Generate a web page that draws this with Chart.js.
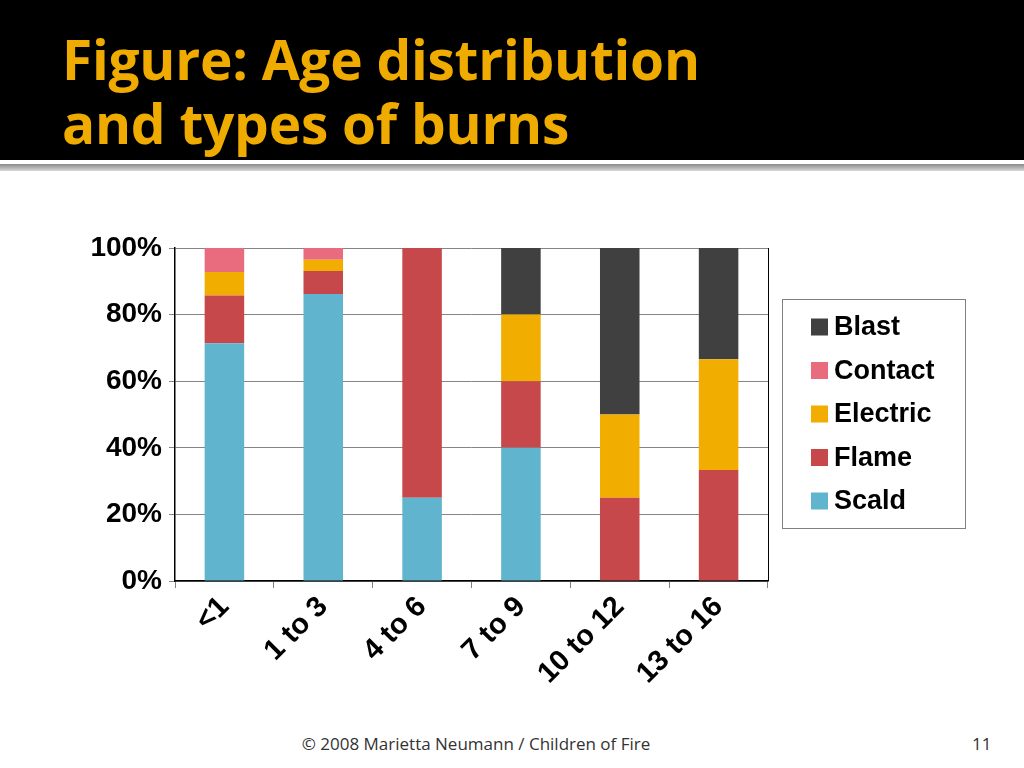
<!DOCTYPE html>
<html>
<head>
<meta charset="utf-8">
<script src="https://cdn.jsdelivr.net/npm/chart.js@4.4.1/dist/chart.umd.min.js"></script>
<style>
  html, body { margin: 0; padding: 0; width: 1024px; height: 768px; background: #fff; overflow: hidden; }
  #header { position: absolute; left: 0; top: 0; width: 1024px; height: 160px; background: #000; }
  #title { position: absolute; left: 62px; top: 27px; margin: 0; font-family: "Open Sans", sans-serif; font-weight: 700; font-size: 55px; line-height: 64px; color: #F0AB00; letter-spacing: -0.25px; }
  #rule { position: absolute; left: 0; top: 164px; width: 1024px; height: 7px; background: linear-gradient(#8a8a8a, #d8d8d8); }
  #wrap { position: absolute; left: 0; top: 180px; width: 1024px; height: 540px; }
  #footer { position: absolute; left: 0; width: 952px; top: 732px; text-align: center; font-family: "Open Sans", sans-serif; font-size: 17px; color: #333; }
  #page { position: absolute; left: 972px; top: 732px; font-family: "Open Sans", sans-serif; font-size: 17px; color: #333; }
</style>
</head>
<body>
<div id="header"><h1 id="title">Figure: Age distribution<br>and types of burns</h1></div>
<div id="rule"></div>
<div id="wrap"><canvas id="c" width="1024" height="540"></canvas></div>
<div id="footer">© 2008 Marietta Neumann / Children of Fire</div>
<div id="page">11</div>
<script>
const categories = ['<1', '1 to 3', '4 to 6', '7 to 9', '10 to 12', '13 to 16'];
const scald    = [71.4, 86.2, 25, 40, 0, 0];
const flame    = [14.3, 6.9, 75, 20, 25, 33.3];
const electric = [7.1, 3.4, 0, 20, 25, 33.3];
const contact  = [7.2, 3.5, 0, 0, 0, 0];
const blast    = [0, 0, 0, 20, 50, 33.4];
const yTicks   = [0, 20, 40, 60, 80, 100];

const seriesNames = ['Scald', 'Flame', 'Electric', 'Contact', 'Blast'];
const seriesData = [scald, flame, electric, contact, blast];
const seriesColors = ['#61B4CD', '#C7484A', '#F1AD00', '#E96C7E', '#404040'];

const FONT = '"Liberation Sans", Arial, sans-serif';

const legendBox = {
  id: 'legendBox',
  afterDraw(chart) {
    const ctx = chart.ctx;
    ctx.save();
    ctx.strokeStyle = '#808080';
    ctx.lineWidth = 1;
    ctx.strokeRect(782.5, 119.5, 183, 229);
    // right border of plot area
    const a = chart.chartArea;
    ctx.strokeStyle = '#000';
    ctx.beginPath();
    ctx.moveTo(Math.round(a.right) + 0.5, a.top);
    ctx.lineTo(Math.round(a.right) + 0.5, a.bottom);
    ctx.stroke();
    ctx.font = 'bold 27px ' + FONT;
    ctx.textBaseline = 'middle';
    ctx.fillStyle = '#000';
    const ds = chart.data.datasets.slice().reverse();
    ds.forEach((d, i) => {
      const cy = 147 + i * 43.5;
      ctx.fillStyle = d.backgroundColor;
      ctx.fillRect(811, cy - 8.5, 17, 17);
      ctx.fillStyle = '#000';
      ctx.fillText(d.label, 834, cy + 1);
    });
    ctx.restore();
  }
};

new Chart(document.getElementById('c'), {
  type: 'bar',
  data: {
    labels: categories,
    datasets: seriesNames.map((n, i) => ({
      label: n,
      data: seriesData[i],
      backgroundColor: seriesColors[i],
      borderWidth: 0,
      categoryPercentage: 1,
      barPercentage: 0.4
    }))
  },
  options: {
    responsive: false,
    animation: false,
    devicePixelRatio: 1,
    layout: { padding: { top: 68, left: 0, right: 256, bottom: 0 } },
    plugins: { legend: { display: false }, tooltip: { enabled: false } },
    scales: {
      x: {
        stacked: true,
        afterFit(s) { s.height = 139; },
        grid: { drawOnChartArea: false, drawTicks: true, tickLength: 7, color: '#808080', offset: true },
        border: { color: '#000', width: 1.5 },
        ticks: { color: '#000', font: { family: FONT, size: 29, weight: 'bold' }, minRotation: 45, maxRotation: 45, padding: 2, autoSkip: false }
      },
      y: {
        stacked: true,
        min: 0, max: 100,
        afterFit(s) { s.width = 175; },
        afterBuildTicks(s) { s.ticks = yTicks.map(v => ({ value: v })); },
        grid: { color: '#858585', lineWidth: 1, tickLength: 6 },
        border: { color: '#000', width: 1.5 },
        ticks: { color: '#000', font: { family: FONT, size: 28, weight: 'bold' }, padding: 7, callback: v => v + '%' }
      }
    }
  },
  plugins: [legendBox]
});
</script>
</body>
</html>
